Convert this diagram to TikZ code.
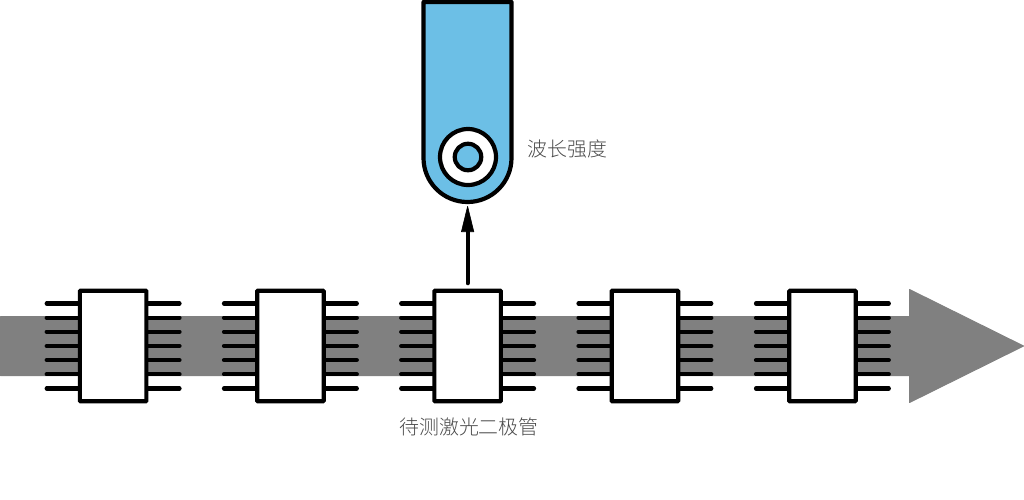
\documentclass[tikz,border=0pt]{standalone}
\usepackage{fontspec}
\newfontfamily\cjk{Noto Sans CJK SC Light}[BoldFont={Noto Sans CJK SC}]
\usetikzlibrary{arrows.meta}
\definecolor{bandgray}{HTML}{808080}
\definecolor{probeblue}{HTML}{6CBFE6}
\definecolor{labelgray}{HTML}{4A4A4A}
\tikzset{
  band/.style={fill=bandgray,draw=bandgray,line width=1pt,line join=round},
  chipbox/.style={draw=black,fill=white,line width=4.2pt,minimum width=66.5pt,minimum height=110.5pt,inner sep=0pt,rectangle,rounded corners=0.8pt},
  pin/.style={draw=black,line width=4.2pt,line cap=round},
  probebody/.style={draw=black,fill=probeblue,line width=4.2pt,line join=round},
  ring/.style={draw=black,line width=4.2pt,circle,inner sep=0pt},
  lbl/.style={text=labelgray,font=\cjk\fontsize{19.9}{22}\selectfont,inner sep=0pt},
  riser/.style={draw=black,line width=4.2pt,line cap=round,-{Triangle[length=27pt,width=13pt,line width=0.6pt,round]}}
}
\begin{document}
\begin{tikzpicture}[x=1pt,y=-1pt]
\useasboundingbox (0,0) rectangle (1024,499);
\draw[band] (0.5,316.5) -- (909.5,316.5) -- (909.5,289.5) -- (1023.5,346) -- (909.5,402.5) -- (909.5,375.5) -- (0.5,375.5) -- cycle;
\foreach \n/\cx in {1/113.1,2/290.4,3/467.6,4/644.9,5/822.4}{
  \foreach \py in {303.5,317.6,331.7,345.9,360.1,374.3,388.4}{
    \draw[pin] (\cx-66.4,\py) -- (\cx-33,\py);
    \draw[pin] (\cx+33,\py) -- (\cx+66.4,\py);
  }
  \node[chipbox] (c\n) at (\cx,346) {};
}
\draw[probebody] (423.5,2) -- (511.5,2) -- (511.5,158) arc[start angle=0,end angle=180,radius=44] -- cycle;
\node[ring,fill=white,minimum size=56pt] (outerring) at (468,157) {};
\node[ring,fill=probeblue,minimum size=26.5pt] (innerring) at (468,157) {};
\coordinate (probetip) at (467.6,206);
\coordinate (riserstart) at ([yshift=5.5pt]c3.north);
\draw[riser] (riserstart) -- (probetip);
\node[lbl,anchor=west] (lblprobe) at (527.5,149) {波长强度};
\node[lbl,anchor=center] (lblchip) at (469,426.5) {待测激光二极管};
\end{tikzpicture}
\end{document}
